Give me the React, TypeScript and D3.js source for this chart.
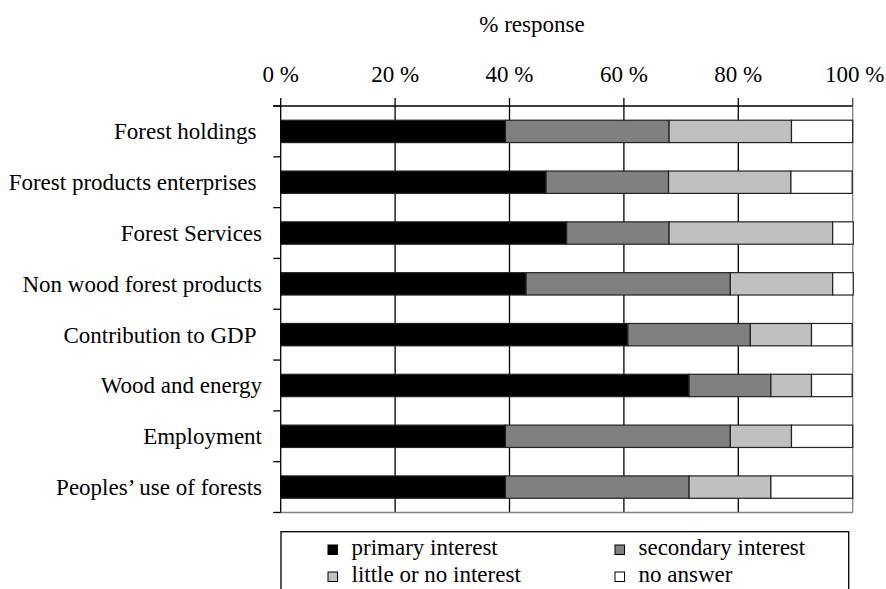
import React from "react";
import * as d3 from "d3";

const categories = [
  "Forest holdings ",
  "Forest products enterprises ",
  "Forest Services",
  "Non wood forest products",
  "Contribution to GDP ",
  "Wood and energy",
  "Employment",
  "Peoples’ use of forests",
];
const primary = [39.3, 46.4, 50.0, 42.9, 60.7, 71.4, 39.3, 39.3];
const secondary = [28.6, 21.4, 17.9, 35.7, 21.4, 14.3, 39.3, 32.1];
const little = [21.4, 21.4, 28.6, 17.9, 10.7, 7.1, 10.7, 14.3];
const noAnswer = [10.7, 10.7, 3.6, 3.6, 7.1, 7.1, 10.7, 14.3];
const seriesNames = ["primary interest", "secondary interest", "little or no interest", "no answer"];
const seriesColors = ["#000000", "#808080", "#c0c0c0", "#ffffff"];
const xTicks = [0, 20, 40, 60, 80, 100];

const W = 886;
const H = 589;
const left = 280.7;
const right = 852.7;
const top = 106;
const bottom = 512.5;
const FONT = "Liberation Serif";
const FS = 23;

export default function App() {
  const x = d3.scaleLinear().domain([0, 100]).range([left, right]);
  const y = d3.scaleBand<string>().domain(categories).range([top, bottom]).paddingInner(0.56).paddingOuter(0.28);
  const rows = categories.map((c, i) => ({
    cat: c,
    p: primary[i],
    s: secondary[i],
    l: little[i],
    n: noAnswer[i],
  }));
  const stack = d3.stack<any>().keys(["p", "s", "l", "n"]);
  const layers = stack(rows);
  const band = (bottom - top) / categories.length;
  const legendItems = [
    { name: seriesNames[0], color: seriesColors[0], x: 328, y: 550 },
    { name: seriesNames[1], color: seriesColors[1], x: 615, y: 550 },
    { name: seriesNames[2], color: seriesColors[2], x: 328, y: 577 },
    { name: seriesNames[3], color: seriesColors[3], x: 615, y: 577 },
  ];
  return (
    <svg width={W} height={H} fontFamily={FONT} fontSize={FS} style={{ position: "absolute", left: 0, top: 0 }}>
      <style>{`text { font-family: "Liberation Serif"; font-size: 23px; }`}</style>
      <rect x={0} y={0} width={W} height={H} fill="#fff" />
      <text x={532} y={31.7} textAnchor="middle" fontFamily={FONT} fontSize={FS} fill="#000">% response</text>
      {xTicks.filter((t) => t > 0 && t < 100).map((t) => (
        <line key={t} x1={x(t)} x2={x(t)} y1={top} y2={bottom} stroke="#000" strokeWidth={1.3} />
      ))}
      <line x1={x(100)} x2={x(100)} y1={top} y2={bottom} stroke="#808080" strokeWidth={1.3} />
      <line x1={left} x2={right} y1={bottom} y2={bottom} stroke="#808080" strokeWidth={1.3} />
      {layers.map((layer, li) => (
        <g key={li}>
          {layer.map((d, i) => (
            <rect
              key={i}
              x={x(d[0])}
              y={y(categories[i])!}
              width={x(d[1]) - x(d[0])}
              height={y.bandwidth()}
              fill={seriesColors[li]}
              stroke="#222"
              strokeWidth={1.2}
            />
          ))}
        </g>
      ))}
      <line x1={left - 7.5} x2={right} y1={top} y2={top} stroke="#000" strokeWidth={1.3} />
      {xTicks.map((t) => (
        <g key={t}>
          <line x1={x(t)} x2={x(t)} y1={top - 8} y2={top} stroke={t === 100 ? "#444" : "#000"} strokeWidth={1.3} />
          <text x={x(t) + (t === 100 ? 2 : 0)} y={81.7} textAnchor="middle" fontFamily={FONT} fontSize={FS} fill="#000">
            {`${t} %`}
          </text>
        </g>
      ))}
      <line x1={left} x2={left} y1={top} y2={bottom} stroke="#000" strokeWidth={1.3} />
      {d3.range(categories.length + 1).map((k) => (
        <line key={k} x1={left - 7.5} x2={left} y1={top + k * band} y2={top + k * band} stroke="#000" strokeWidth={1.3} />
      ))}
      {categories.map((c) => (
        <text
          key={c}
          x={c.endsWith(" ") ? 256.5 : 262}
          y={y(c)! + y.bandwidth() / 2 + 8}
          textAnchor="end"
          fontFamily={FONT}
          fontSize={FS}
          fill="#000"
        >
          {c.trim()}
        </text>
      ))}
      <rect x={281} y={531.7} width={567.7} height={80} fill="#fff" stroke="#000" strokeWidth={1.3} />
      {legendItems.map((it) => (
        <g key={it.name}>
          <rect x={it.x} y={it.y - 5} width={9.5} height={9.5} fill={it.color} stroke="#000" strokeWidth={1} />
          <text x={it.x + 23.5} y={it.y + 5} fontFamily={FONT} fontSize={FS} fill="#000">{it.name}</text>
        </g>
      ))}
    </svg>
  );
}
